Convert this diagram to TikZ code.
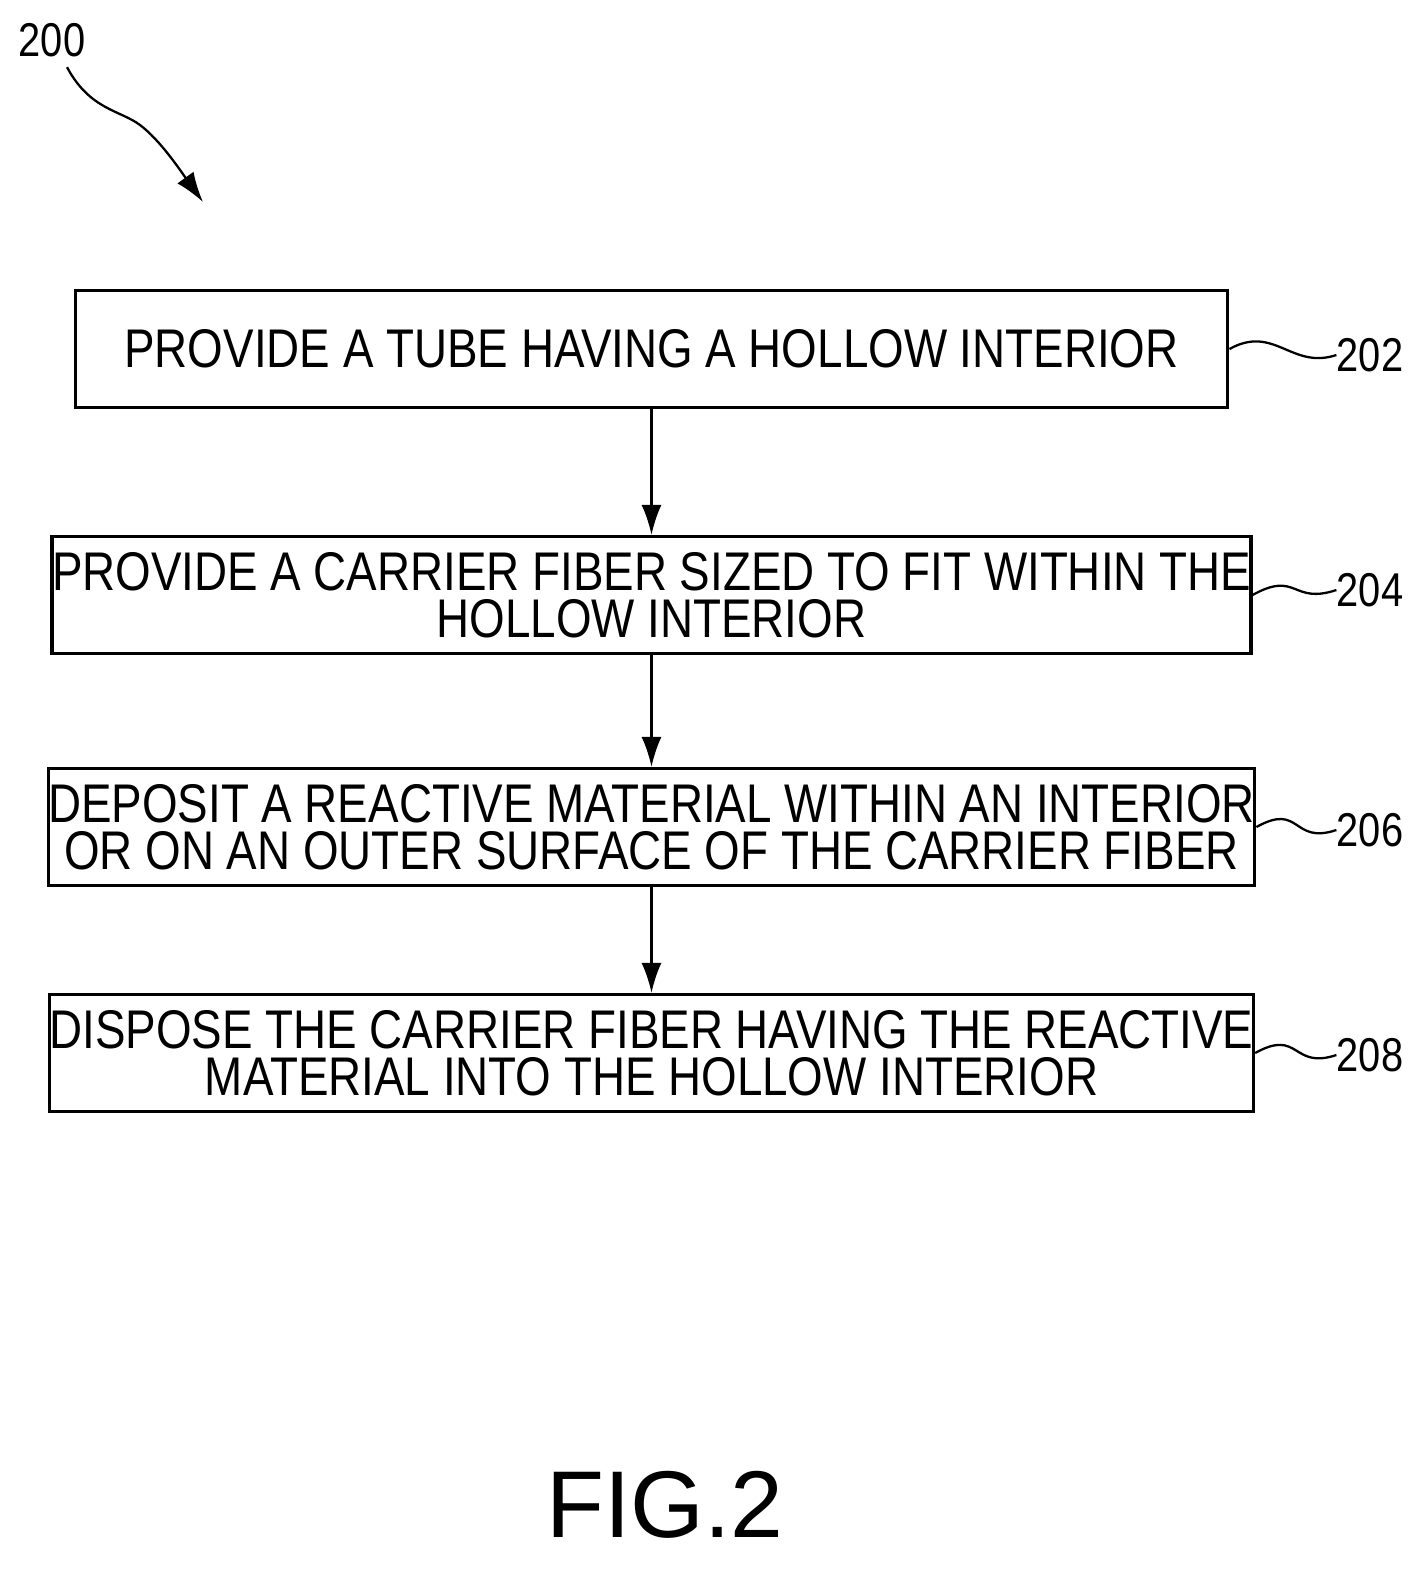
\documentclass[tikz,border=0pt]{standalone}
\usepackage{fontspec}
\setmainfont{Liberation Sans}
\newfontfamily\figfont{Liberation Sans}
\usetikzlibrary{arrows.meta,positioning}
\newcommand{\nrw}[1]{\scalebox{0.84}[1]{#1}}
\tikzset{
  stepbox/.style={draw,line width=1.8pt,minimum width=23.06cm,minimum height=2.34cm,
    align=center,inner sep=0pt,
    font=\fontsize{31}{27}\selectfont},
  ref/.style={font=\fontsize{27}{30}\selectfont,inner sep=0pt},
  flow/.style={-{Latex[length=0.6cm,width=0.4cm]},line width=1.3pt},
  squig/.style={line width=1.3pt}
}
\begin{document}
\begin{tikzpicture}[x=0.02cm,y=-0.02cm]
        \useasboundingbox (0,0) rectangle (1425,1570);
        % Process steps
        \node[stepbox] (step202) at (651.5,349) {\nrw{PROVIDE A TUBE HAVING A HOLLOW INTERIOR}};
        \node[stepbox] (step204) at (651.5,595) {\nrw{PROVIDE A CARRIER FIBER SIZED TO FIT WITHIN THE}\\\nrw{HOLLOW INTERIOR}};
        \node[stepbox] (step206) at (651.5,827) {\nrw{DEPOSIT A REACTIVE MATERIAL WITHIN AN INTERIOR}\\\nrw{OR ON AN OUTER SURFACE OF THE CARRIER FIBER}};
        \node[stepbox] (step208) at (651.5,1053) {\nrw{DISPOSE THE CARRIER FIBER HAVING THE REACTIVE}\\\nrw{MATERIAL INTO THE HOLLOW INTERIOR}};

        % Reference numerals
        \node[ref] (lab202) at (1370,355) {\nrw{202}};
        \node[ref] (lab204) at (1370,590) {\nrw{204}};
        \node[ref] (lab206) at (1370,830) {\nrw{206}};
        \node[ref] (lab208) at (1370,1055) {\nrw{208}};
        \node[ref] (lab200) at (52,40) {\nrw{200}};
        \coordinate (tip200) at (203,202);

        % Arrows
        \draw[flow] (step202) -- (step204);
        \draw[flow] (step204) -- (step206);
        \draw[flow] (step206) -- (step208);

        % Leader lines
        \foreach \n in {202,204,206,208}
          \draw[squig] (step\n.east) .. controls +(45,-25) and +(-45,15) .. (lab\n.west);
        \draw[flow] ([shift={(15,10)}]lab200.south) .. controls (90,110) and (120,110) .. (140,125)
          .. controls (160,140) and (180,170) .. (tip200);

        % Figure title
        \node[font=\figfont\fontsize{54}{60}\selectfont,inner sep=0pt] (title) at (665,1505) {FIG.2};
\end{tikzpicture}
\end{document}
